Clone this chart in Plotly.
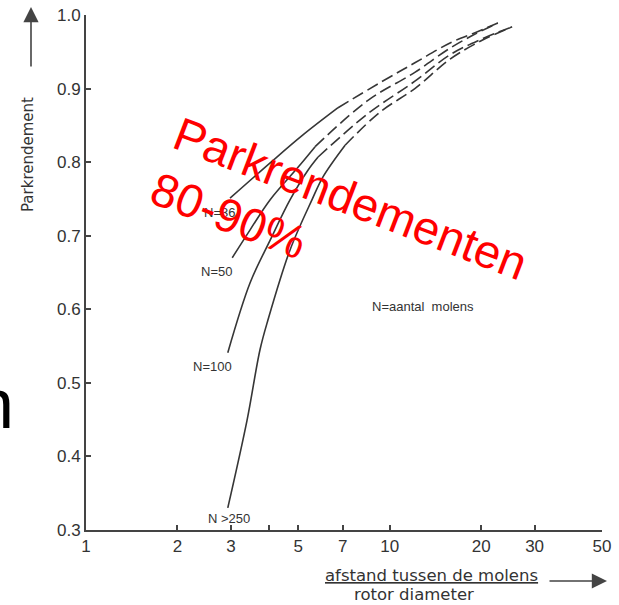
import plotly.graph_objects as go

# Park efficiency versus turbine spacing (distance / rotor diameter)
# Solid part = calculated, dashed part = extrapolated
n36_x_solid = [2.98, 4.04, 5.18, 6.76]
n36_y_solid = [0.751, 0.799, 0.837, 0.874]
n36_x_dash = [6.76, 9.29, 12.1, 15.8, 19.1, 22.7]
n36_y_dash = [0.874, 0.908, 0.935, 0.962, 0.976, 0.989]

n50_x_solid = [3.03, 3.47, 4.04, 4.99, 5.68]
n50_y_solid = [0.670, 0.708, 0.749, 0.793, 0.821]
n50_x_dash = [5.68, 8.48, 12.1, 15.8, 19.1, 22.7]
n50_y_dash = [0.821, 0.884, 0.922, 0.955, 0.974, 0.989]

n100_x_solid = [2.93, 3.47, 4.04, 4.70, 5.38, 5.81]
n100_y_solid = [0.541, 0.636, 0.694, 0.749, 0.789, 0.807]
n100_x_dash = [5.81, 8.48, 12.1, 15.8, 20.0, 25.3]
n100_y_dash = [0.807, 0.866, 0.910, 0.946, 0.967, 0.984]

n250_x_solid = [2.93, 3.39, 3.74, 3.97, 4.70, 5.55, 6.03, 7.13]
n250_y_solid = [0.330, 0.449, 0.545, 0.585, 0.681, 0.749, 0.780, 0.823]
n250_x_dash = [7.13, 9.29, 12.1, 15.8, 20.0, 25.3]
n250_y_dash = [0.823, 0.868, 0.900, 0.940, 0.965, 0.984]

x_tick_vals = [1, 2, 3, 4, 5, 7, 10, 20, 30, 50]
x_tick_text = ["1", "2", "3", "", "5", "7", "10", "20", "30", "50"]
y_tick_vals = [0.3, 0.4, 0.5, 0.6, 0.7, 0.8, 0.9, 1.0]
y_tick_text = ["0.3", "0.4", "0.5", "0.6", "0.7", "0.8", "0.9", "1.0"]

W, H = 619, 605
ML, MR, MT, MB = 86, 17, 15, 75
PW, PH = W - ML - MR, H - MT - MB


def px(xp):
    return (xp - ML) / PW


def py(yp):
    return (H - MB - yp) / PH


LINE = "#363636"
TXT = "#333333"
FONT = "Liberation Sans, Arial, sans-serif"
WIDE = "DejaVu Sans, sans-serif"

fig = go.Figure()

series = [
    (n36_x_solid, n36_y_solid, n36_x_dash, n36_y_dash),
    (n50_x_solid, n50_y_solid, n50_x_dash, n50_y_dash),
    (n100_x_solid, n100_y_solid, n100_x_dash, n100_y_dash),
    (n250_x_solid, n250_y_solid, n250_x_dash, n250_y_dash),
]
for xs, ys, xd, yd in series:
    fig.add_trace(go.Scatter(x=xs, y=ys, mode="lines",
                             line=dict(color=LINE, width=1.6, shape="spline", smoothing=1.0),
                             hoverinfo="skip", showlegend=False))
    fig.add_trace(go.Scatter(x=xd, y=yd, mode="lines",
                             line=dict(color=LINE, width=1.6, shape="spline", smoothing=1.0,
                                       dash="12px,5px"),
                             hoverinfo="skip", showlegend=False))

annotations = []


def label(text, xp, yp, size=13, color=TXT, angle=0, xanchor="center", family=FONT):
    annotations.append(dict(text=text, xref="paper", yref="paper", x=px(xp), y=py(yp),
                            showarrow=False, xanchor=xanchor, yanchor="middle",
                            textangle=angle, font=dict(size=size, color=color, family=family)))


# curve labels
label("N=36", 219, 212)
label("N=50", 216, 271)
label("N=100", 212, 366)
label("N &gt;250", 229, 518)
label("N=aantal  molens", 423, 307)

# axis titles
label("Parkrendement", 28, 155, size=15, angle=-90, family=WIDE)
label("<u>afstand tussen de molens</u>", 431, 575, size=16.5, family=WIDE)
label("rotor diameter", 414, 594, size=16.5, family=WIDE)

# arrows next to the axis titles
annotations.append(dict(text="", xref="paper", yref="paper", x=px(31), y=py(7),
                        ax=0, ay=61, showarrow=True, arrowhead=2, arrowsize=1.9,
                        arrowwidth=1.6, arrowcolor="#444444", standoff=0, startstandoff=0))
annotations.append(dict(text="", xref="paper", yref="paper", x=px(607), y=py(581),
                        ax=-59, ay=0, showarrow=True, arrowhead=2, arrowsize=1.9,
                        arrowwidth=1.6, arrowcolor="#444444", standoff=0, startstandoff=0))

# red overlay text
label("Parkrendementen", 351, 198, size=47, color="#ff0000", angle=21)
label("80-90%", 229, 215, size=47, color="#ff0000", angle=21)

# large letter at the left edge
label("n", 16, 404, size=70, color="#000000", xanchor="right")

fig.update_layout(
    width=W, height=H,
    margin=dict(l=ML, r=MR, t=MT, b=MB, autoexpand=False),
    paper_bgcolor="white", plot_bgcolor="white",
    annotations=annotations,
    xaxis=dict(type="log", range=[0, 1.69897], tickmode="array",
               tickvals=x_tick_vals, ticktext=x_tick_text,
               ticks="inside", ticklen=5, tickwidth=1.5, tickcolor="#444444",
               showline=True, linecolor="#444444", linewidth=2,
               showgrid=False, zeroline=False, automargin=False,
               tickfont=dict(size=17, color=TXT, family=FONT)),
    yaxis=dict(range=[0.3, 1.0], tickmode="array",
               tickvals=y_tick_vals, ticktext=y_tick_text,
               ticks="inside", ticklen=5, tickwidth=1.5, tickcolor="#444444",
               showline=True, linecolor="#444444", linewidth=2,
               showgrid=False, zeroline=False, automargin=False,
               tickfont=dict(size=17, color=TXT, family=FONT)),
)

fig.write_html("out.html")
